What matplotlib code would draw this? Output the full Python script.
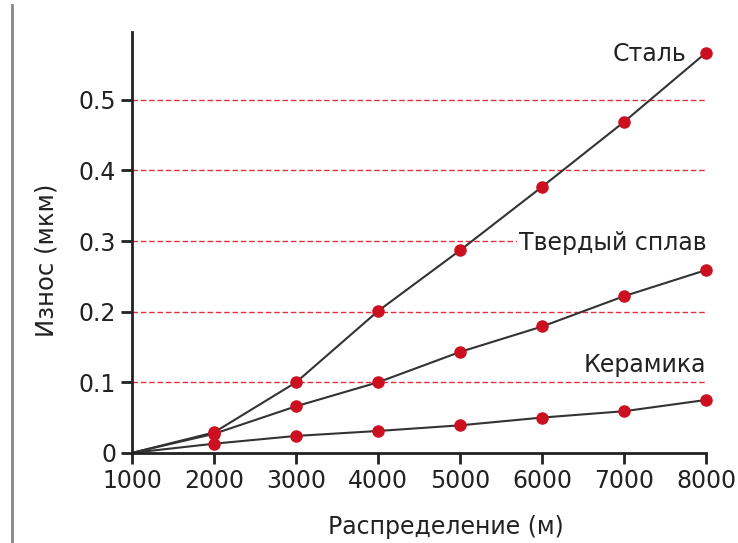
import matplotlib.pyplot as plt
from matplotlib.lines import Line2D

dist = [1000, 2000, 3000, 4000, 5000, 6000, 7000, 8000]
steel = [0, 0.029, 0.100, 0.201, 0.287, 0.377, 0.469, 0.567]
alloy = [0, 0.027, 0.066, 0.100, 0.143, 0.179, 0.222, 0.259]
ceramic = [0, 0.013, 0.024, 0.031, 0.039, 0.050, 0.059, 0.075]

fig = plt.figure(figsize=(7.38, 5.43), dpi=100)
ax = fig.add_axes([0.179, 0.166, 0.778, 0.775])

# red dashed guide lines
for yv in [0.1, 0.2, 0.3, 0.4, 0.5]:
    ax.axhline(yv, color='#e0303e', lw=1, ls=(0, (4, 2)), zorder=1)

for s in [steel, alloy, ceramic]:
    ax.plot(dist, s, color='#333333', lw=1.5, zorder=2)
    ax.plot(dist[1:], s[1:], 'o', color='#cc1020', ms=8, zorder=3, clip_on=False)

ax.text(7760, 0.565, 'Сталь', ha='right', va='center', fontsize=17, color='#222222')
ax.text(8000, 0.297, 'Твердый сплав', ha='right', va='center', fontsize=17, color='#222222',
        bbox=dict(facecolor='white', edgecolor='none', pad=1))
ax.text(8000, 0.125, 'Керамика', ha='right', va='center', fontsize=17, color='#222222')

ax.set_xlim(1000, 8000)
ax.set_ylim(0, 0.596)
ax.set_xticks(dist)
ax.set_yticks([0, 0.1, 0.2, 0.3, 0.4, 0.5])
ax.set_yticklabels(['0', '0.1', '0.2', '0.3', '0.4', '0.5'])
ax.tick_params(labelsize=17, length=8, width=2, color='#222222', labelcolor='#222222')
for sp in ['top', 'right']:
    ax.spines[sp].set_visible(False)
for sp in ['left', 'bottom']:
    ax.spines[sp].set_linewidth(2)
    ax.spines[sp].set_color('#222222')

ax.set_xlabel('Распределение (м)', fontsize=17, color='#222222')
ax.set_ylabel('Износ (мкм)', fontsize=17.5, color='#222222')
ax.xaxis.set_label_coords(0.547, -0.147)
ax.yaxis.set_label_coords(-0.129, 0.458)

fig.add_artist(Line2D([0.016, 0.016], [0, 0.99], color='#888888', lw=2))

fig.savefig('out.png', dpi=100)
